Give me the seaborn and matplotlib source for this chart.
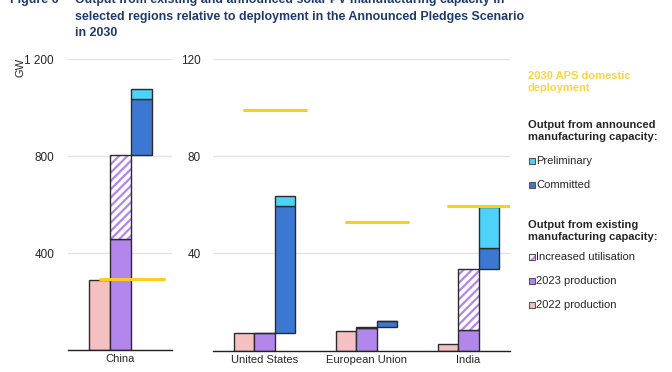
import matplotlib
matplotlib.use("Agg")
import matplotlib.pyplot as plt
import seaborn as sns
import numpy as np

# data (GW)
china = ["China"]
china_2022 = [288]
china_2023 = [456]
china_util = [805]          # top of increased utilisation
china_committed = [1035]    # top of committed
china_prelim = [1076]       # top of preliminary
china_aps = [294]

others = ["United States", "European Union", "India"]
oth_2022 = [7, 8.1, 2.6]
oth_2023 = [7, 9.1, 8.4]
oth_util = [7, 9.6, 33.7]
oth_committed = [59.5, 12.3, 42.3]
oth_prelim = [63.6, 12.3, 58.9]
oth_aps = [99, 53, 59.4]

c_2022 = "#F4C0C1"
c_2023 = "#B386EC"
c_com = "#3C78D1"
c_pre = "#4DD3FA"
c_aps = "#FFCC1A"
c_edge = "#2b2b2b"
title_col = "#1F3B6E"

sns.set_theme(style="white")
plt.rcParams["font.family"] = ["Liberation Sans", "DejaVu Sans"]
plt.rcParams["hatch.linewidth"] = 1.6

W, H = 672, 372
fig = plt.figure(figsize=(W / 100, H / 100), dpi=100)


def fx(px):
    return px / W


def fy(py):
    return 1 - py / H


def draw(ax, cats, v22, v23, vut, vcom, vpre, aps, step):
    pos = np.arange(len(cats)) * step
    kw = dict(width=1.0, edgecolor=c_edge, linewidth=1.0)
    ax.bar(pos - 1, v22, color=c_2022, **kw)
    ax.bar(pos, v23, color=c_2023, **kw)
    util = np.array(vut) - np.array(v23)
    ax.bar(pos, util, bottom=v23, color="white", edgecolor=c_2023,
           hatch="////", linewidth=0, width=1.0)
    ax.bar(pos, util, bottom=v23, fill=False, **kw)
    com = np.array(vcom) - np.array(vut)
    ax.bar(pos + 1, com, bottom=vut, color=c_com, **kw)
    pre = np.array(vpre) - np.array(vcom)
    ax.bar(pos + 1, pre, bottom=vcom, color=c_pre, **kw)
    for p, a in zip(pos, aps):
        ax.plot([p - 1.0, p + 2.05], [a, a], color=c_aps, lw=2.2,
                solid_capstyle="round", zorder=5)
    ax.set_xticks(pos)
    ax.set_xticklabels(cats, fontsize=8)
    ax.tick_params(axis="x", length=0, labelsize=8, pad=3)
    ax.tick_params(axis="y", length=0, labelsize=8.5, pad=10)
    ax.yaxis.grid(True, color="#E3E3E3", lw=1)
    ax.set_axisbelow(True)
    for s in ["top", "right", "left"]:
        ax.spines[s].set_visible(False)
    ax.spines["bottom"].set_color("#222222")
    ax.spines["bottom"].set_linewidth(1)


ax1 = fig.add_axes([fx(68), fy(350), fx(172 - 68), (350 - 59) / H])
draw(ax1, china, china_2022, china_2023, china_util, china_committed,
     china_prelim, china_aps, 5)
ax1.set_xlim(-2.5, 2.45)
ax1.set_ylim(0, 1200)
ax1.set_yticks([0, 400, 800, 1200])
ax1.set_yticklabels(["", "400", "800", "1 200"])

ax2 = fig.add_axes([fx(213), fy(350.5), fx(510 - 213), (350.5 - 59) / H])
draw(ax2, others, oth_2022, oth_2023, oth_util, oth_committed,
     oth_prelim, oth_aps, 5)
ax2.set_xlim(-2.53, 12.03)
ax2.set_ylim(0, 120)
ax2.set_yticks([0, 40, 80, 120])
ax2.set_yticklabels(["", "40", "80", "120"])
ax2.tick_params(axis="y", pad=9)

fig.text(fx(20), fy(67), "GW", rotation=90, fontsize=8, ha="center", va="center")

# title (first line cut by the top edge as in the source)
tkw = dict(fontsize=8.9, fontweight="bold", color=title_col, va="baseline")
fig.text(fx(10), fy(3), "Figure 6", **tkw)
fig.text(fx(75), fy(3), "Output from existing and announced solar PV manufacturing capacity in", **tkw)
fig.text(fx(75), fy(20), "selected regions relative to deployment in the Announced Pledges Scenario", **tkw)
fig.text(fx(75), fy(36), "in 2030", **tkw)

# legend
lx = 528
fig.text(fx(lx), fy(82), "2030 APS domestic\ndeployment", color="#FFD43B",
         fontsize=8, fontweight="bold", va="center", linespacing=1.15)
fig.text(fx(lx), fy(131), "Output from announced\nmanufacturing capacity:",
         fontsize=8, fontweight="bold", va="center", linespacing=1.15)
fig.text(fx(lx), fy(231), "Output from existing\nmanufacturing capacity:",
         fontsize=8, fontweight="bold", va="center", linespacing=1.15)

items = [("Preliminary", c_pre, None, 161), ("Committed", c_com, None, 185),
         ("Increased utilisation", "white", "////", 257),
         ("2023 production", c_2023, None, 281), ("2022 production", c_2022, None, 305)]
for label, col, hatch, y in items:
    sq = plt.Rectangle((fx(529), fy(y) - 3 / H), 6 / W, 6 / H, transform=fig.transFigure,
                       facecolor=col, edgecolor="#555555", lw=0.8,
                       hatch=hatch)
    if hatch:
        sq.set_edgecolor(c_2023)
        fig.patches.append(sq)
        sq = plt.Rectangle((fx(529), fy(y) - 3 / H), 6 / W, 6 / H,
                           transform=fig.transFigure, fill=False,
                           edgecolor="#555555", lw=0.8)
    fig.patches.append(sq)
    fig.text(fx(536), fy(y), label, fontsize=8, va="center")

fig.savefig("out.png", dpi=100)
